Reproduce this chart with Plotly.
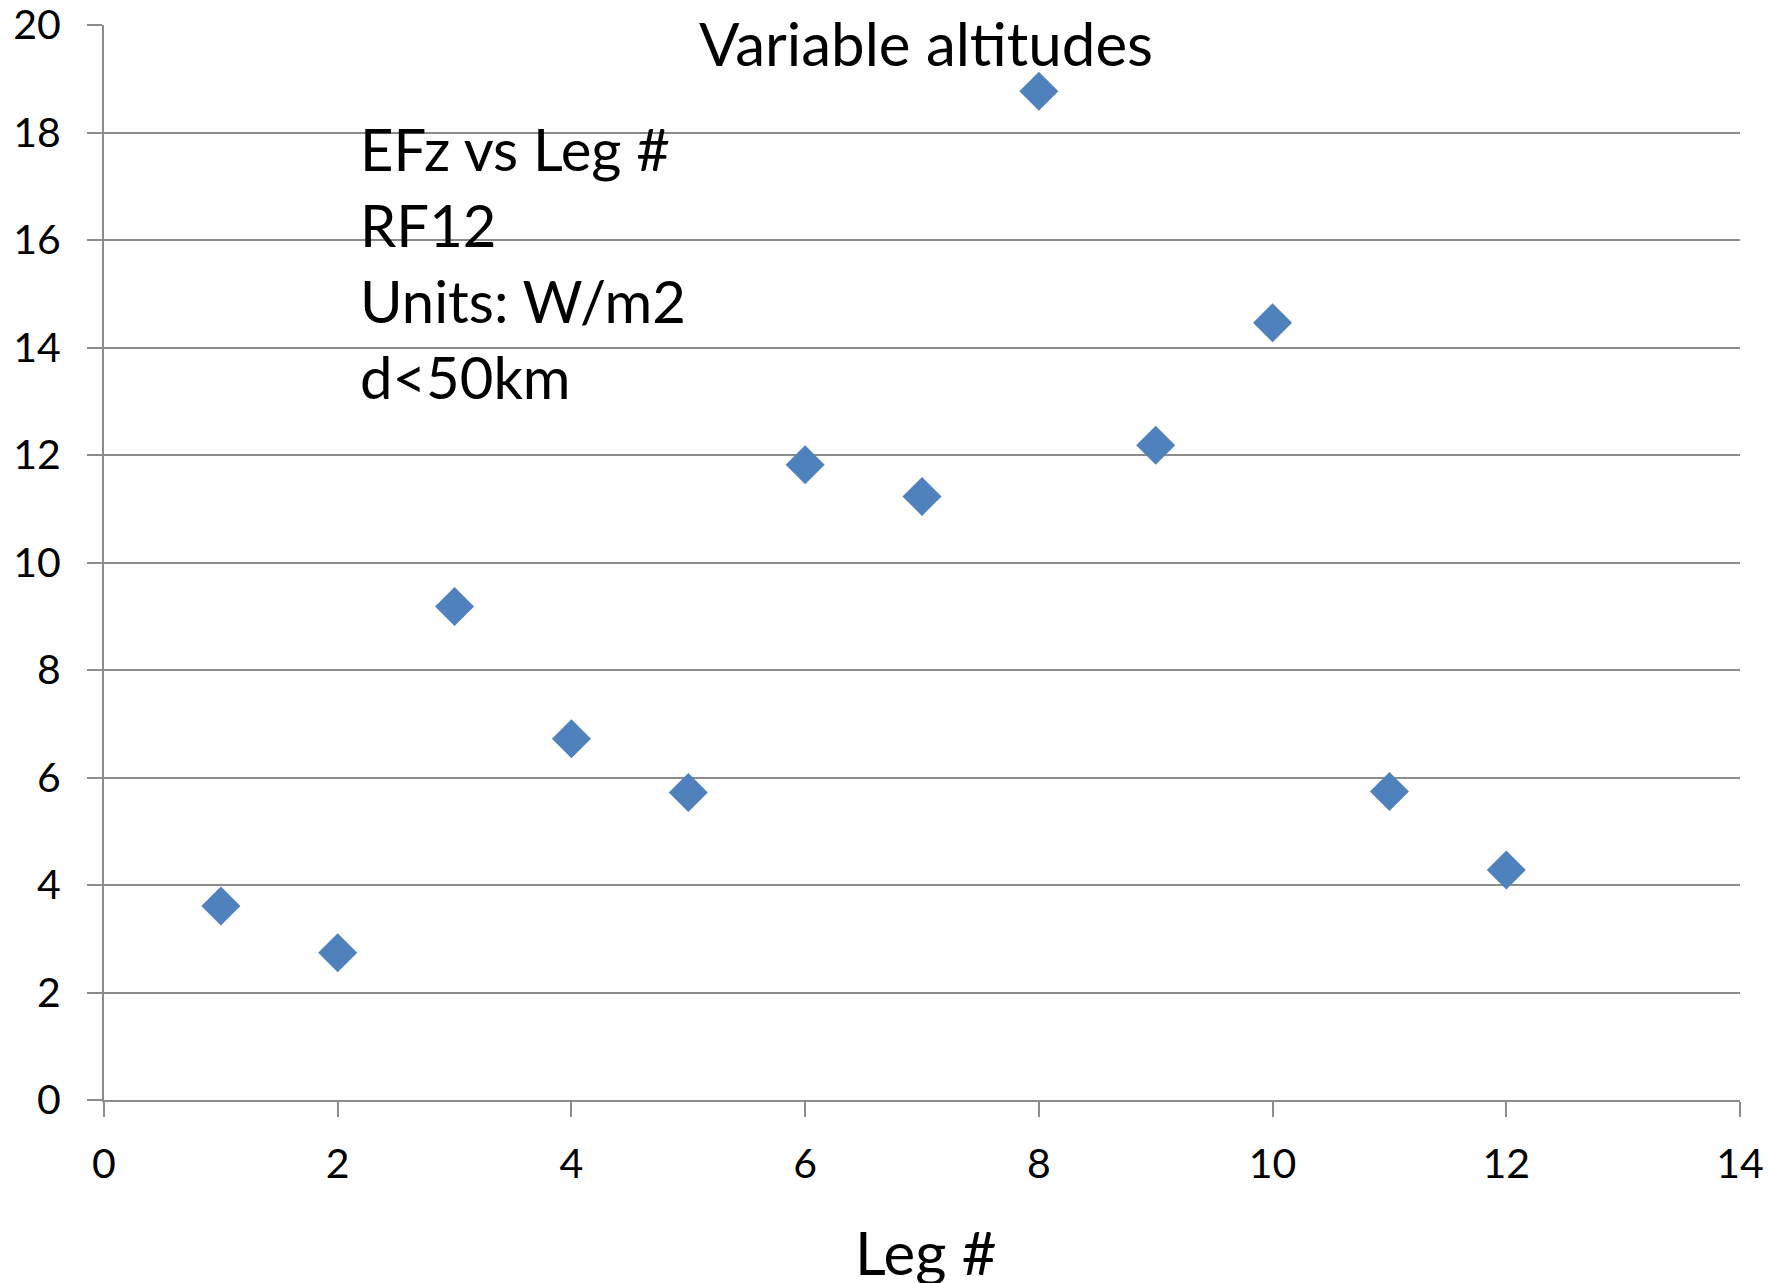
import plotly.graph_objects as go

# EFz per flight leg (RF12, d<50km)
legs = [1, 2, 3, 4, 5, 6, 7, 8, 9, 10, 11, 12]
efz = [3.61, 2.74, 9.18, 6.72, 5.72, 11.82, 11.23, 18.77, 12.18, 14.46, 5.74, 4.28]

x_ticks = [0, 2, 4, 6, 8, 10, 12, 14]
y_ticks = [0, 2, 4, 6, 8, 10, 12, 14, 16, 18, 20]

info_lines = ["EFz vs Leg #", "RF12", "Units: W/m2", "d<50km"]

FONT = "Lato, Carlito, Calibri, sans-serif"
GRID = "#8c8c8c"

fig = go.Figure()
fig.add_trace(go.Scatter(
    x=legs, y=efz, mode="markers",
    marker=dict(symbol="diamond", size=30, color="#4F81BD", line=dict(width=0)),
    showlegend=False,
))

fig.update_layout(
    width=1785, height=1283,
    margin=dict(l=104, r=45, t=25, b=183, autoexpand=False),
    paper_bgcolor="white", plot_bgcolor="white",
    font=dict(family=FONT, color="black"),
)

fig.update_xaxes(
    range=[0, 14], tickvals=x_ticks, ticktext=[str(v) for v in x_ticks],
    showgrid=False, zeroline=False, automargin=False,
    showline=True, linecolor=GRID, linewidth=2,
    ticks="outside", ticklen=15, tickwidth=1.5, tickcolor=GRID,
    tickfont=dict(size=41, family=FONT),
    ticklabelstandoff=12, ticklabeloverflow="allow",
)
fig.update_yaxes(
    range=[0, 20.0005], tickvals=y_ticks, ticktext=[str(v) for v in y_ticks],
    showgrid=True, gridcolor=GRID, gridwidth=2,
    zeroline=False, automargin=False,
    showline=True, linecolor=GRID, linewidth=2,
    ticks="outside", ticklen=15, tickwidth=1.5, tickcolor=GRID,
    tickfont=dict(size=41, family=FONT),
    ticklabelstandoff=18, ticklabeloverflow="allow",
)

# chart title line
fig.add_annotation(
    text="Variable altitudes", xref="paper", yref="paper",
    x=0.5024, y=1.0, xanchor="center", yanchor="middle",
    yshift=-18, showarrow=False, font=dict(size=60, family=FONT),
)

# x-axis title
fig.add_annotation(
    text="Leg #", xref="paper", yref="paper",
    x=0.5024, y=0, xanchor="center", yanchor="middle",
    yshift=-152, showarrow=False, font=dict(size=60, family=FONT),
)

# info block inside the plot
for i, line in enumerate(info_lines):
    fig.add_annotation(
        text=line, xref="x", yref="y",
        x=2.17, y=17.7 - i * 1.414, xanchor="left", yanchor="middle",
        showarrow=False, font=dict(size=58, family=FONT),
    )

fig.write_html("out.html")
